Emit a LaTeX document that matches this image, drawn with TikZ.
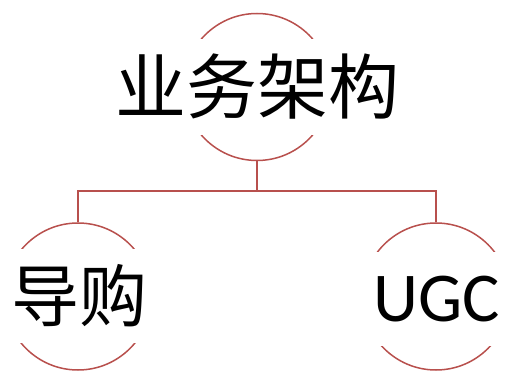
\documentclass[tikz,border=0pt]{standalone}
\usepackage{fontspec}
\newfontfamily\cjkfont{Noto Sans CJK SC}
\newfontfamily\carlitofont{Carlito}
\definecolor{linec}{RGB}{184,80,77}
\begin{document}
\begin{tikzpicture}[x=1pt,y=-1pt,
  circ/.style={circle,draw=linec,line width=1.5pt,minimum size=147pt,inner sep=0pt},
  lbl/.style={fill=white,inner sep=0pt,text=black,minimum width=165pt},
  conn/.style={draw=linec,line width=1.5pt}]
\useasboundingbox (0,0) rectangle (506,371);
\node[circ] (top) at (257,87) {};
\node[circ] (l) at (78,296.5) {};
\node[circ] (r) at (436,296.5) {};
\node[lbl,minimum height=96pt] (tt) at (257,87) {\cjkfont\fontsize{71}{71}\selectfont 业务架构};
\node[lbl,minimum height=94pt] (lt) at (79,296) {\cjkfont\fontsize{68}{68}\selectfont 导购};
\node[lbl,minimum height=94pt] (rt) at (437,299) {\carlitofont\fontsize{70}{70}\selectfont UGC};
\draw[conn] (top.south) -- ++(0,30) -| (l.north);
\draw[conn] (top.south) -- ++(0,30) -| (r.north);
\end{tikzpicture}
\end{document}
